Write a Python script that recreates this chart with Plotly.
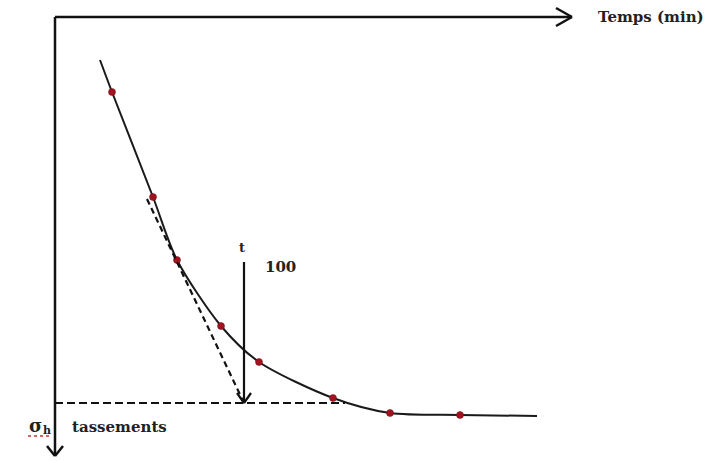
import plotly.graph_objects as go

# Settlement readings (time in min, settlement in arbitrary units, downward positive)
t_obs = [11.4, 19.6, 24.4, 33.2, 40.8, 55.6, 67.0, 81.0]
s_obs = [18.75, 45.0, 60.75, 77.25, 86.25, 95.25, 99.0, 99.5]

# Extent of the fitted curve beyond the first/last readings
t_curve_start, s_curve_start = 9.0, 10.75
t_curve_end, s_curve_end = 96.4, 99.75

# Tangent construction and t100 determination
t_tangent = [18.4, 37.8]
s_tangent = [45.5, 96.5]
s_final = 96.5          # asymptotic settlement (horizontal dashed line)
t_final_end = 58.0
t100 = 37.8
s_arrow_top = 61.25

# Axis geometry (data units)
t_axis_end = 103.4
s_axis_end = 109.75

X_RANGE = [-11.0, 131.2]
Y_RANGE = [111.0, -4.25]
W, H = 711, 461

# helpers to express small pixel offsets (arrowheads, labels) in data units
kx = (X_RANGE[1] - X_RANGE[0]) / W
ky = (Y_RANGE[0] - Y_RANGE[1]) / H

fig = go.Figure()

# fitted curve
fig.add_trace(go.Scatter(
    x=[t_curve_start] + t_obs + [t_curve_end],
    y=[s_curve_start] + s_obs + [s_curve_end],
    mode="lines", line=dict(color="#1a1a1a", width=2, shape="spline", smoothing=0.8),
    hoverinfo="skip"))

# readings
fig.add_trace(go.Scatter(
    x=t_obs, y=s_obs, mode="markers",
    marker=dict(color="#a3121f", size=7, line=dict(color="#6e0f16", width=0.5)),
    hoverinfo="skip"))

shapes = []
def seg(x0, y0, x1, y1, dash=None, width=2.2, color="#111"):
    shapes.append(dict(type="line", xref="x", yref="y", x0=x0, y0=y0, x1=x1, y1=y1,
                       line=dict(color=color, width=width, dash=dash)))

# axes
seg(0, 0, t_axis_end, 0, width=2.5)
seg(0, 0, 0, s_axis_end, width=2.5)
# arrowheads on axes
seg(t_axis_end - 16 * kx, -9 * ky, t_axis_end, 0, width=2.5)
seg(t_axis_end - 16 * kx, 9 * ky, t_axis_end, 0, width=2.5)
seg(-8 * kx, s_axis_end - 10 * ky, 0, s_axis_end, width=2.5)
seg(8 * kx, s_axis_end - 10 * ky, 0, s_axis_end, width=2.5)

# tangent and final settlement (dashed)
seg(t_tangent[0], s_tangent[0], t_tangent[1], s_tangent[1], dash="6px,4px")
seg(0, s_final, t_final_end, s_final, dash="8px,4px")

# t100 arrow
seg(t100, s_arrow_top, t100, s_final)
seg(t100 - 7 * kx, s_final - 10 * ky, t100, s_final)
seg(t100 + 7 * kx, s_final - 10 * ky, t100, s_final)

# squiggly underline under sigma_h
shapes.append(dict(type="line", xref="x", yref="y",
                   x0=-27 * kx, y0=s_final + 33 * ky, x1=-5 * kx, y1=s_final + 33 * ky,
                   line=dict(color="#c0392b", width=1.5, dash="dot")))

fig.update_layout(shapes=shapes)

SERIF = "DejaVu Serif"
annotations = [
    dict(x=t_axis_end + 24 * kx, y=0, text="<b>Temps (min)</b>", xanchor="left", yanchor="middle",
         font=dict(family=SERIF, size=15, color="#222")),
    dict(x=-20 * kx, y=s_final + 22 * ky, text="<b>σ</b>", xanchor="center", yanchor="middle",
         font=dict(family=SERIF, size=18, color="#222")),
    dict(x=-8 * kx, y=s_final + 27 * ky, text="<b>h</b>", xanchor="center", yanchor="middle",
         font=dict(family=SERIF, size=11, color="#222")),
    dict(x=15 * kx, y=s_final + 24 * ky, text="<b>tassements</b>", xanchor="left", yanchor="middle",
         font=dict(family=SERIF, size=15, color="#222")),
    dict(x=t100 - 2 * kx, y=s_arrow_top - 15 * ky, text="<b>t</b>", xanchor="center", yanchor="middle",
         font=dict(family=SERIF, size=13, color="#222")),
    dict(x=t100 + 36 * kx, y=s_arrow_top + 5 * ky, text="<b>100</b>", xanchor="center", yanchor="middle",
         font=dict(family=SERIF, size=15, color="#222")),
]
for a in annotations:
    a.update(xref="x", yref="y", showarrow=False)
fig.update_layout(annotations=annotations)

fig.update_xaxes(range=X_RANGE, visible=False, fixedrange=True)
fig.update_yaxes(range=Y_RANGE, visible=False, fixedrange=True)
fig.update_layout(width=W, height=H, margin=dict(l=0, r=0, t=0, b=0),
                  paper_bgcolor="white", plot_bgcolor="white", showlegend=False)

fig.write_html("out.html")
